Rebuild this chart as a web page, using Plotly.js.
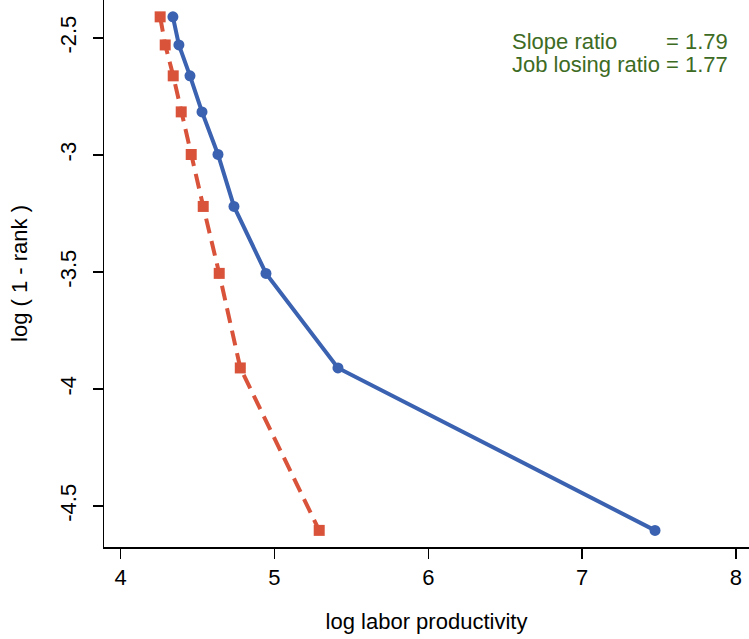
<!DOCTYPE html>
<html>
<head>
<meta charset="utf-8">
<script src="https://cdn.plot.ly/plotly-3.0.1.min.js"></script>
<style>html,body{margin:0;padding:0;background:#fff}#chart{width:749px;height:639px}</style>
</head>
<body>
<div id="chart"></div>
<script>
// Data
const yRank = [-2.410, -2.530, -2.662, -2.816, -2.998, -3.220, -3.506, -3.910, -4.604];
const xBlue = [4.340, 4.379, 4.451, 4.529, 4.633, 4.737, 4.945, 5.413, 7.474];
const xOrange = [4.257, 4.290, 4.342, 4.394, 4.459, 4.537, 4.641, 4.778, 5.291];
const xTicks = [4, 5, 6, 7, 8];
const yTicks = [-2.5, -3, -3.5, -4, -4.5];
const yTickText = ['-2.5', '-3', '-3.5', '-4', '-4.5'];
const noteLabels = ['Slope ratio', 'Job losing ratio'];
const noteValues = ['= 1.79', '= 1.77'];

const FONT = 'Liberation Sans, Arial, sans-serif';
const FS = 22;
const blue = '#3a62b0';
const orange = '#d9533a';
const green = '#3d6b24';

const traces = [
  {x: xBlue, y: yRank, mode: 'lines+markers', type: 'scatter',
   line: {color: blue, width: 4}, marker: {color: blue, size: 11, symbol: 'circle'}},
  {x: xOrange, y: yRank, mode: 'lines+markers', type: 'scatter',
   line: {color: orange, width: 4, dash: '15px,8px'}, marker: {color: orange, size: 11, symbol: 'square'}}
];

const noteY = [0.925, 0.882];
const annotations = [];
noteLabels.forEach((t, i) => {
  annotations.push({xref: 'paper', yref: 'paper', x: 0.630, y: noteY[i], xanchor: 'left', yanchor: 'middle',
    text: t, showarrow: false, font: {family: FONT, size: FS, color: green}});
  annotations.push({xref: 'paper', yref: 'paper', x: 0.971, y: noteY[i], xanchor: 'right', yanchor: 'middle',
    text: noteValues[i], showarrow: false, font: {family: FONT, size: FS, color: green}});
});

const layout = {
  width: 749, height: 639,
  margin: {l: 104, r: 0, t: 0, b: 92},
  paper_bgcolor: '#fff', plot_bgcolor: '#fff',
  showlegend: false,
  font: {family: FONT, size: FS, color: '#000'},
  xaxis: {range: [3.892, 8.085], tickvals: xTicks, ticktext: xTicks.map(String),
    showgrid: false, zeroline: false, showline: true, linecolor: '#000', linewidth: 1.5,
    ticks: 'outside', ticklen: 10, tickwidth: 1.5, tickcolor: '#000',
    tickfont: {family: FONT, size: FS},
    title: {text: 'log labor productivity', font: {family: FONT, size: FS}, standoff: 24}},
  yaxis: {range: [-4.675, -2.338], tickvals: yTicks, ticktext: yTickText, tickangle: -90,
    ticklabelstandoff: 8,
    showgrid: false, zeroline: false, showline: true, linecolor: '#000', linewidth: 1.5,
    ticks: 'outside', ticklen: 10, tickwidth: 1.5, tickcolor: '#000',
    tickfont: {family: FONT, size: FS},
    title: {text: 'log ( 1 - rank )', font: {family: FONT, size: FS}, standoff: 22}},
  annotations: annotations
};

Plotly.newPlot('chart', traces, layout, {staticPlot: true, displayModeBar: false});
</script>
</body>
</html>
